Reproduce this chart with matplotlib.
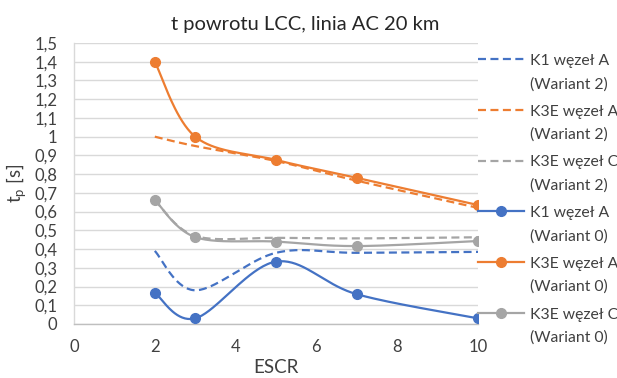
import numpy as np
import matplotlib
matplotlib.use('Agg')
import matplotlib.pyplot as plt
from matplotlib.lines import Line2D

plt.rcParams['font.family'] = ['Lato', 'DejaVu Sans']

# data
escr = [2, 3, 5, 7, 10]
k1_a_w2 = [0.39, 0.18, 0.38, 0.38, 0.385]
k3e_a_w2 = [1.0, 0.95, 0.87, 0.765, 0.62]
k3e_c_w2 = [0.66, 0.47, 0.46, 0.457, 0.463]
k1_a_w0 = [0.167, 0.03, 0.333, 0.159, 0.03]
k3e_a_w0 = [1.40, 1.0, 0.876, 0.78, 0.635]
k3e_c_w0 = [0.662, 0.464, 0.44, 0.416, 0.443]

names = ['K1 węzeł A', 'K3E węzeł A', 'K3E węzeł C', 'K1 węzeł A', 'K3E węzeł A', 'K3E węzeł C']
variants = ['(Wariant 2)'] * 3 + ['(Wariant 0)'] * 3
series = [k1_a_w2, k3e_a_w2, k3e_c_w2, k1_a_w0, k3e_a_w0, k3e_c_w0]

BLUE = '#4472C4'
ORANGE = '#ED7D31'
GRAY = '#A5A5A5'
TXT = '#404040'
colors = [BLUE, ORANGE, GRAY, BLUE, ORANGE, GRAY]
dashed = [True, True, True, False, False, False]


def smooth(x, y, n=40):
    # excel-like smoothed line: cubic bezier with catmull-rom control points
    x = np.asarray(x, float)
    y = np.asarray(y, float)
    pts = np.column_stack([x, y])
    out = []
    for i in range(len(pts) - 1):
        p0 = pts[i - 1] if i > 0 else pts[i]
        p1 = pts[i]
        p2 = pts[i + 1]
        p3 = pts[i + 2] if i + 2 < len(pts) else pts[i + 1]
        c1 = p1 + (p2 - p0) / 6
        c2 = p2 - (p3 - p1) / 6
        t = np.linspace(0, 1, n)[:, None]
        seg = ((1 - t) ** 3) * p1 + 3 * ((1 - t) ** 2) * t * c1 + 3 * (1 - t) * t ** 2 * c2 + t ** 3 * p2
        out.append(seg if i == 0 else seg[1:])
    out = np.vstack(out)
    return out[:, 0], out[:, 1]


fig = plt.figure(figsize=(6.17, 3.78), dpi=100)
ax = fig.add_axes([74 / 617, 1 - 324 / 378, 404 / 617, 281 / 378])

lw = 1.6
dash = (3.6, 2.0)
for s, c, d in zip(series, colors, dashed):
    xs, ys = smooth(escr, s)
    if d:
        ax.plot(xs, ys, color=c, lw=lw, dashes=dash, zorder=3)
    else:
        ax.plot(xs, ys, color=c, lw=lw, zorder=4)
        ax.plot(escr, s, 'o', color=c, ms=7, zorder=5)

ax.set_xlim(0, 10)
ax.set_ylim(0, 1.5)
ax.set_xticks(range(0, 11, 2))
yt = np.round(np.arange(0, 1.51, 0.1), 1)
ax.set_yticks(yt)
ax.set_yticklabels([('%g' % v).replace('.', ',') for v in yt])
ax.tick_params(length=0, labelsize=12, colors=TXT)
ax.tick_params(axis='x', pad=11)
ax.tick_params(axis='y', pad=12)
ax.grid(axis='y', color='#D9D9D9', lw=1)
ax.set_axisbelow(True)
for sp in ['top', 'right']:
    ax.spines[sp].set_visible(False)
ax.spines['left'].set_color('#D9D9D9')
ax.spines['bottom'].set_color('#BFBFBF')
ax.spines['left'].set_linewidth(1)
ax.spines['bottom'].set_linewidth(1)

ax.set_xlabel('ESCR', fontsize=13.5, color=TXT, labelpad=3)
ax.set_ylabel('t$_\\mathregular{p}$ [s]', fontsize=13.5, color=TXT, labelpad=4)
fig.text(0.495, 1 - 30 / 378, 't powrotu LCC, linia AC 20 km', ha='center', va='baseline',
         fontsize=14.5, color='#262626')

# legend drawn by hand: handle aligned with first text line
for i, (nm, vr, c, d) in enumerate(zip(names, variants, colors, dashed)):
    yc = 59.3 + i * 50.7
    yp = 1 - yc / 378
    ln = Line2D([478 / 617, 524 / 617], [yp, yp], transform=fig.transFigure, color=c, lw=lw)
    if d:
        ln.set_dashes(dash)
    fig.add_artist(ln)
    if not d:
        fig.add_artist(Line2D([501 / 617], [yp], transform=fig.transFigure, color=c,
                              marker='o', ms=7, lw=0))
    fig.text(530 / 617, 1 - (yc + 5.7) / 378, nm, ha='left', va='baseline', fontsize=11.3, color=TXT)
    fig.text(530 / 617, 1 - (yc + 29) / 378, vr, ha='left', va='baseline', fontsize=11.3, color=TXT)

fig.savefig('out.png', dpi=100)
